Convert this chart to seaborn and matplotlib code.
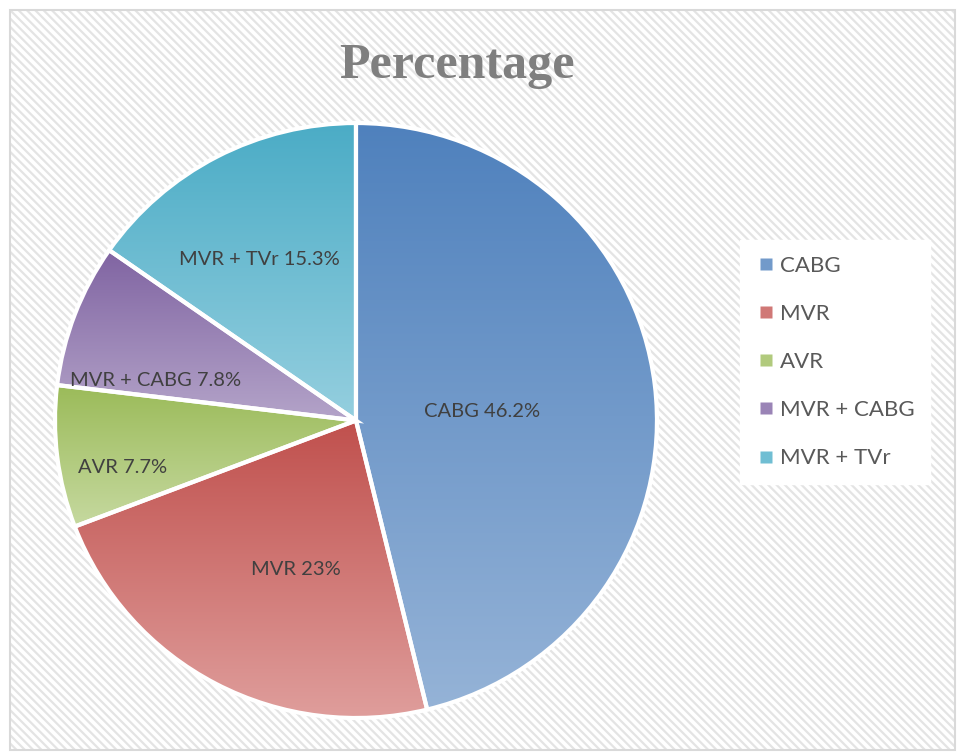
"""
Pie chart: surgery type percentages, Excel-style gradient wedges
"""
import numpy as np
import matplotlib
matplotlib.use("Agg")
import matplotlib.pyplot as plt
from matplotlib.patches import Rectangle
from matplotlib.lines import Line2D
from matplotlib.colors import LinearSegmentedColormap
import seaborn as sns

# data
categories = ["CABG", "MVR", "AVR", "MVR + CABG", "MVR + TVr"]
percentages = [46.2, 23, 7.7, 7.8, 15.3]
label_texts = ["CABG 46.2%", "MVR 23%", "AVR 7.7%", "MVR + CABG 7.8%", "MVR + TVr 15.3%"]

# gradient colours (top -> bottom) per slice
top_colors = ["#4f81bd", "#c0504d", "#9bbb59", "#8064a2", "#4bacc6"]
bottom_colors = ["#95b3d7", "#e0a09e", "#c6d9a0", "#b4a4c9", "#95cfdf"]
# label placement (fraction of radius, angle shift from slice middle in degrees)
label_radius = [0.42, 0.54, 0.79, 0.68, 0.63]
label_shift = [-2.7, 5.9, 4.5, 9.5, 3.0]

sns.set_theme(style="white")
plt.rcParams["font.family"] = ["Lato", "DejaVu Sans"]
plt.rcParams["hatch.linewidth"] = 1.6

fig = plt.figure(figsize=(9.59, 7.54), dpi=100)
fig.patch.set_facecolor("white")

# hatched background + frame
W, H = 959, 754
bg = Rectangle((10 / W, 4 / H), 945 / W, 740 / H, transform=fig.transFigure,
               facecolor="white", edgecolor="#e4e4e4", hatch="\\\\\\\\", linewidth=0, zorder=0)
fig.add_artist(bg)
frame = Rectangle((10 / W, 4 / H), 945 / W, 740 / H, transform=fig.transFigure,
                  facecolor="none", edgecolor="#d9d9d9", linewidth=1.5, zorder=1)
fig.add_artist(frame)

ax = fig.add_axes([0.0542, 0.0438, 0.634, 0.797])
ax.set_facecolor("none")
ax.patch.set_alpha(0)

wedges, _ = ax.pie(percentages, startangle=90, counterclock=False, radius=1.0,
                   wedgeprops=dict(facecolor="none", edgecolor="white", linewidth=3))

for i, w in enumerate(wedges):
    # gradient fill clipped to the wedge
    verts = w.get_path().vertices
    x0, y0 = verts.min(axis=0)
    x1, y1 = verts.max(axis=0)
    cmap = LinearSegmentedColormap.from_list(
        f"g{i}", sns.blend_palette([top_colors[i], bottom_colors[i]], 16))
    grad = np.linspace(0, 1, 256).reshape(-1, 1)
    im = ax.imshow(grad, cmap=cmap, extent=[x0, x1, y0, y1], origin="upper",
                   aspect="auto", zorder=1)
    im.set_clip_path(w)
    w.set_zorder(2)

    ang = np.deg2rad((w.theta1 + w.theta2) / 2 + label_shift[i])
    r = label_radius[i]
    ax.text(r * np.cos(ang), r * np.sin(ang), label_texts[i], ha="center", va="center",
            fontsize=14.5, color="#404040", zorder=3)

ax.set_xlim(-1.01, 1.01)
ax.set_ylim(-1.01, 1.01)
ax.set_aspect("auto")
ax.axis("off")

fig.text(0.476, 0.913, "Percentage", ha="center", va="center",
         fontsize=36, fontweight="bold", color="#7f7f7f",
         family=["Liberation Serif", "DejaVu Serif"])

handles = [Line2D([0], [0], marker="s", linestyle="none", markersize=8,
                  markerfacecolor=sns.blend_palette([top_colors[i], bottom_colors[i]], 3)[1],
                  markeredgecolor="none") for i in range(len(categories))]
leg = fig.legend(handles, categories, loc="upper left",
                 bbox_to_anchor=(740 / W, 1 - 240 / H), frameon=True, fancybox=False,
                 facecolor="white", edgecolor="white", framealpha=1,
                 fontsize=16, labelspacing=1.27, handletextpad=0.2,
                 handlelength=0.9, borderpad=0.7, borderaxespad=0,
                 labelcolor="#595959")

fig.savefig("out.png", dpi=100, facecolor="white")
